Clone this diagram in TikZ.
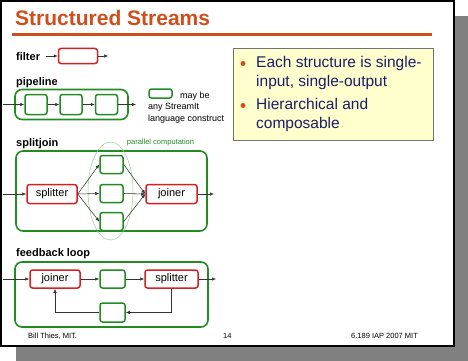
\documentclass[tikz,border=0pt]{standalone}
\usepackage{fontspec}
\setmainfont{Liberation Sans}
\usetikzlibrary{arrows.meta}

\definecolor{titleorange}{RGB}{208,78,28}
\definecolor{boxgreen}{RGB}{34,139,34}
\definecolor{boxred}{RGB}{214,32,36}
\definecolor{notenavy}{RGB}{28,28,105}
\definecolor{noteyellow}{RGB}{255,255,206}

\begin{document}
\begin{tikzpicture}[
					x = 1pt, y = -1pt,
					every node/.style = {inner sep = 0pt},
					redbox/.style = {draw = boxred, line width = 1.5pt, rounded corners = 2.5pt, fill = white, font = \fontsize{11}{13}\selectfont},
					grnbox/.style = {draw = boxgreen, line width = 1.5pt, rounded corners = 2.5pt, fill = white},
					outerbox/.style = {draw = boxgreen, line width = 1.6pt, rounded corners = 7pt},
					flow/.style = {-{Latex[length = 4pt, width = 3.4pt]}, line width = 0.55pt, draw = black!80},
					heading/.style = {anchor = base west, font = \fontsize{11}{13}\selectfont\bfseries},
					note/.style = {anchor = base west, text = notenavy, font = \fontsize{15.5}{18}\selectfont},
					dot/.style = {circle, fill = titleorange, minimum size = 5pt},
					foot/.style = {anchor = base west, font = \fontsize{7.5}{9}\selectfont}]

					\useasboundingbox (0,0) rectangle (468,361);

					% slide with shadow
					\fill[black!50] (16,16) rectangle (468,361);
					\draw[fill = white, line width = 1.5pt] (1,1) rectangle (454,346);

					\node[anchor = base west, text = titleorange, font = \fontsize{21}{24}\selectfont\bfseries] (title) at (15,26) {Structured Streams};
					\draw[titleorange, line width = 3pt] (12,35) -- (432,35);

					% filter
					\node[heading] (hfilter) at (16,60) {filter};
					\node[redbox, minimum width = 39pt, minimum height = 15pt] (flt) at (78,56) {};
					\coordinate (fltin) at (46,56);
					\coordinate (fltout) at (108,56);
					\draw[flow] (fltin) -- (flt);
					\draw[flow] (flt) -- (fltout);

					% pipeline
					\node[heading] (hpipe) at (16,85) {pipeline};
					\node[outerbox, minimum width = 113pt, minimum height = 30pt] (pipe) at (71.5,104.5) {};
					\node[grnbox, minimum width = 22pt, minimum height = 20pt] (p1) at (36,104.5) {};
					\node[grnbox, minimum width = 22pt, minimum height = 20pt] (p2) at (71,104.5) {};
					\node[grnbox, minimum width = 22pt, minimum height = 20pt] (p3) at (106.5,104.5) {};
					\coordinate (pin) at (3,104.5);
					\coordinate (pout) at (136,104.5);
					\draw[flow] (pin) -- (p1);
					\draw[flow] (p1) -- (p2);
					\draw[flow] (p2) -- (p3);
					\draw[flow] (p3) -- (pout);

					\node[grnbox, minimum width = 23pt, minimum height = 9pt] (legend) at (160.5,93.5) {};
					\node[anchor = base west, font = \fontsize{9}{11}\selectfont] (may) at (180,98) {may be};
					\node[anchor = base west, font = \fontsize{9}{11}\selectfont] (any) at (148,109.5) {any StreamIt};
					\node[anchor = base west, font = \fontsize{9}{11}\selectfont] (lang) at (148,121) {language construct};

					% note box
					\draw[fill = noteyellow, draw = black!55, line width = 0.8pt] (233,48) rectangle (433,140);
					\node[dot] (b1) at (243,63.5) {};
					\node[note] (n1) at (256,67) {Each structure is single-};
					\node[note] (n2) at (256,86) {input, single-output};
					\node[dot] (b2) at (243,105.5) {};
					\node[note] (n3) at (256,109) {Hierarchical and};
					\node[note] (n4) at (256,128) {composable};

					% splitjoin
					\node[heading] (hsj) at (16,146) {splitjoin};
					\node[outerbox, minimum width = 191pt, minimum height = 80pt] (sj) at (111.5,191) {};
					\draw[boxgreen!45, line width = 0.5pt] (110.5,191) ellipse (22.5 and 49);
					\node[text = boxgreen, font = \fontsize{7.5}{9}\selectfont] (par) at (160.5,143) {parallel computation};
					\node[redbox, minimum width = 50pt, minimum height = 19pt] (split) at (52,194) {splitter};
					\node[grnbox, minimum width = 23pt, minimum height = 18pt] (f1) at (111.5,164.5) {};
					\node[grnbox, minimum width = 23pt, minimum height = 18pt] (f2) at (111.5,193.5) {};
					\node[grnbox, minimum width = 23pt, minimum height = 18pt] (f3) at (111.5,221.5) {};
					\node[redbox, minimum width = 51pt, minimum height = 19pt] (join) at (171.5,194) {joiner};
					\coordinate (sjin) at (3,194);
					\coordinate (sjout) at (214,194);
					\draw[flow] (sjin) -- (split);
					\draw[flow] (split.east) -- (f1.west);
					\draw[flow] (split.east) -- (f2.west);
					\draw[flow] (split.east) -- (f3.west);
					\draw[flow] (f1.east) -- (join.west);
					\draw[flow] (f2.east) -- (join.west);
					\draw[flow] (f3.east) -- (join.west);
					\draw[flow] (join) -- (sjout);

					% feedback loop
					\node[heading] (hfb) at (16,256) {feedback loop};
					\node[outerbox, minimum width = 193pt, minimum height = 65pt] (fb) at (111.5,294.5) {};
					\node[redbox, minimum width = 50pt, minimum height = 18pt] (fbjoin) at (55,279) {joiner};
					\node[grnbox, minimum width = 25pt, minimum height = 18pt] (body) at (112.5,279) {};
					\node[redbox, minimum width = 53pt, minimum height = 18pt] (fbsplit) at (171.5,279) {splitter};
					\node[grnbox, minimum width = 25pt, minimum height = 19pt] (loop) at (112.5,312.5) {};
					\coordinate (fbin) at (3,279);
					\coordinate (fbout) at (216,279);
					\draw[flow] (fbin) -- (fbjoin);
					\draw[flow] (fbjoin) -- (body);
					\draw[flow] (body) -- (fbsplit);
					\draw[flow] (fbsplit) -- (fbout);
					\draw[flow] (fbsplit.south) |- (loop.east);
					\draw[flow] (loop.west) -| (fbjoin.south);

					% footer
					\node[foot] (who) at (28,338) {Bill Thies, MIT.};
					\node[foot] (page) at (223,338) {14};
					\node[foot] (course) at (351,338) {6.189 IAP 2007 MIT};

				\end{tikzpicture}
\end{document}
